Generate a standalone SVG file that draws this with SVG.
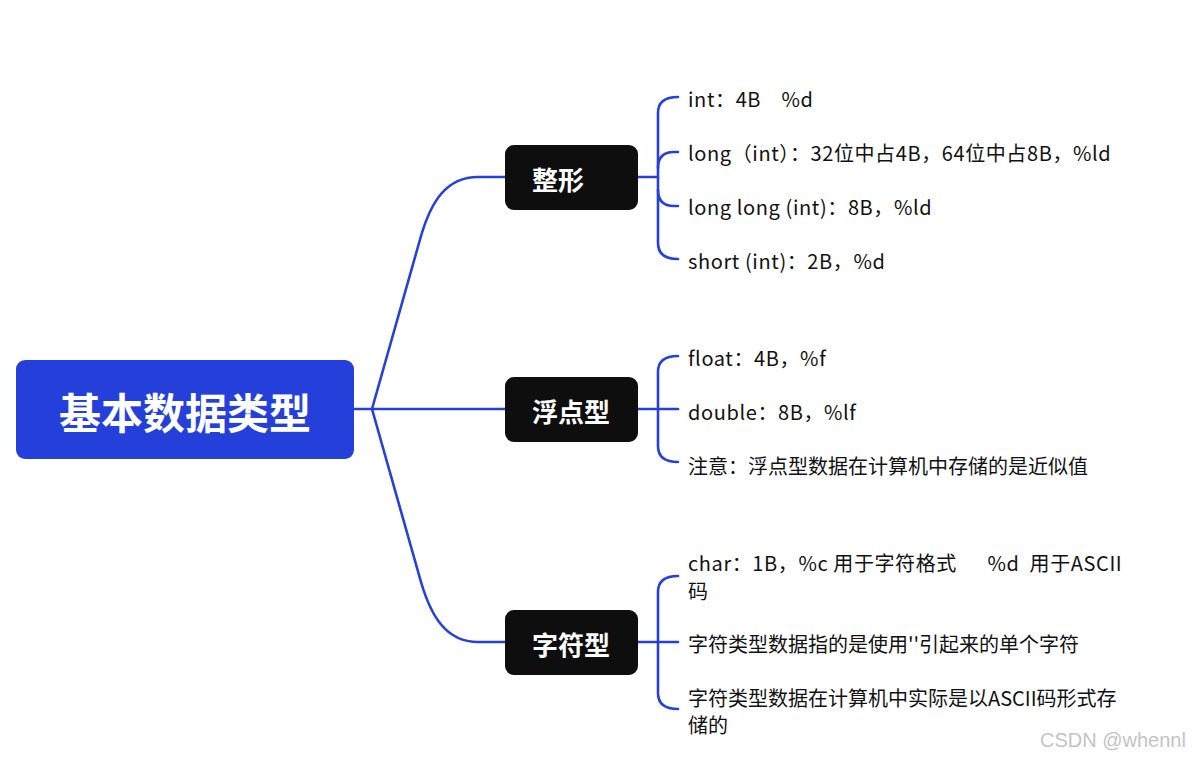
<svg xmlns="http://www.w3.org/2000/svg" width="1194" height="760" viewBox="0 0 1194 760">
<style>
.conn{fill:none;stroke:#2541D8;stroke-width:2.6;stroke-linecap:round;stroke-linejoin:round}
.root{fill:#2540DA}
.branch{fill:#0E0E0E}
.rt{font-family:"Noto Sans CJK SC","Noto Sans",sans-serif;font-weight:700;fill:#fff}
.it{font-family:"Noto Sans CJK SC","Noto Sans",sans-serif;font-size:20px;fill:#111}
.lt{letter-spacing:0.6px}
.wm{font-family:"Liberation Sans",Arial,sans-serif;font-size:20px;fill:#c4c4c4}
</style>
<rect width="1194" height="760" fill="#fff"/>
<g id="connectors">
<path class="conn" d="M354,409 L505,409"/>
<path class="conn" d="M372,409 L421,236 C431,202 446,177 478,177 L505,177"/>
<path class="conn" d="M372,409 L421,582 C431,616 446,642 478,642 L505,642"/>
<path class="conn" d="M638,177 L658,177"/>
<path class="conn" d="M678,97 Q658,97 658,113 L658,243 Q658,259 678,259"/>
<path class="conn" d="M658,168 Q658,152 674,152 L678,152"/>
<path class="conn" d="M658,190 Q658,206 674,206 L678,206"/>
<path class="conn" d="M638,409 L678,409"/>
<path class="conn" d="M678,356 Q658,356 658,372 L658,446 Q658,462 678,462"/>
<path class="conn" d="M638,642 L678,642"/>
<path class="conn" d="M678,576 Q658,576 658,592 L658,693 Q658,709 678,709"/>
</g>
<g id="root">
<rect class="root" x="16" y="360" width="338" height="99" rx="9"/>
<text class="rt" x="185" y="410" font-size="42" text-anchor="middle" dominant-baseline="central">基本数据类型</text>
</g>
<g id="n-int">
<rect class="branch" x="505" y="145" width="133" height="65" rx="9"/>
<text class="rt" x="532" y="178" font-size="26" dominant-baseline="central">整形</text>
</g>
<g id="n-float">
<rect class="branch" x="505" y="377" width="133" height="65" rx="9"/>
<text class="rt" x="532" y="410" font-size="26" dominant-baseline="central">浮点型</text>
</g>
<g id="n-char">
<rect class="branch" x="505" y="610" width="133" height="65" rx="9"/>
<text class="rt" x="532" y="643" font-size="26" dominant-baseline="central">字符型</text>
</g>
<g id="items-int">
<text class="it lt" x="688" y="98" dominant-baseline="central" xml:space="preserve">int：4B    %d</text>
<text class="it lt" x="688" y="152" dominant-baseline="central">long（int）：32位中占4B，64位中占8B，%ld</text>
<text class="it lt" x="688" y="206" dominant-baseline="central">long long (int)：8B，%ld</text>
<text class="it lt" x="688" y="260" dominant-baseline="central">short (int)：2B，%d</text>
</g>
<g id="items-float">
<text class="it lt" x="688" y="357" dominant-baseline="central">float：4B，%f</text>
<text class="it lt" x="688" y="411" dominant-baseline="central">double：8B，%lf</text>
<text class="it" x="688" y="465" dominant-baseline="central">注意：浮点型数据在计算机中存储的是近似值</text>
</g>
<g id="items-char">
<text class="it lt" x="688" y="562" dominant-baseline="central" xml:space="preserve">char：1B，%c 用于字符格式      %d  用于ASCII</text>
<text class="it" x="688" y="590" dominant-baseline="central">码</text>
<text class="it" x="688" y="643" dominant-baseline="central">字符类型数据指的是使用''引起来的单个字符</text>
<text class="it" x="688" y="697" dominant-baseline="central">字符类型数据在计算机中实际是以ASCII码形式存</text>
<text class="it" x="688" y="724" dominant-baseline="central">储的</text>
</g>
<text class="wm" x="1040" y="747">CSDN @whennl</text>
</svg>
